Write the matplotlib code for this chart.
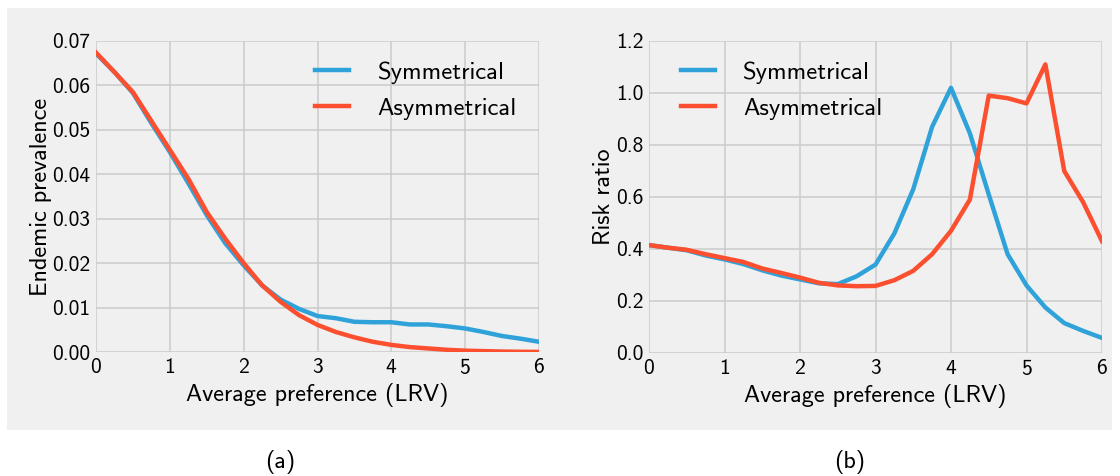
import numpy as np
import matplotlib
matplotlib.use("Agg")
import matplotlib.pyplot as plt
from matplotlib.patches import Rectangle

x = [0, 0.25, 0.5, 0.75, 1, 1.25, 1.5, 1.75, 2, 2.25, 2.5, 2.75, 3,
     3.25, 3.5, 3.75, 4, 4.25, 4.5, 4.75, 5, 5.25, 5.5, 5.75, 6]

prev_sym = [0.0672, 0.0630, 0.0583, 0.0515, 0.0450, 0.0380, 0.0308, 0.0245,
            0.0195, 0.0150, 0.0118, 0.0097, 0.0081, 0.0076, 0.0068, 0.0067,
            0.0067, 0.0062, 0.0062, 0.0058, 0.0053, 0.0045, 0.0036, 0.0030,
            0.0023]
prev_asym = [0.0674, 0.0630, 0.0585, 0.0520, 0.0455, 0.0390, 0.0315, 0.0255,
             0.0200, 0.0150, 0.0113, 0.0083, 0.0061, 0.0045, 0.0033, 0.0023,
             0.0016, 0.0011, 0.0008, 0.0005, 0.0003, 0.0002, 0.0001, 0.00005,
             0.00002]

rr_sym = [0.415, 0.405, 0.395, 0.375, 0.360, 0.342, 0.318, 0.298, 0.283,
          0.268, 0.265, 0.295, 0.340, 0.460, 0.630, 0.870, 1.020, 0.845,
          0.610, 0.380, 0.260, 0.175, 0.115, 0.085, 0.058]
rr_asym = [0.415, 0.405, 0.397, 0.380, 0.365, 0.350, 0.325, 0.308, 0.290,
           0.270, 0.260, 0.257, 0.258, 0.280, 0.316, 0.380, 0.470, 0.590,
           0.990, 0.980, 0.960, 1.110, 0.700, 0.580, 0.430]

labels = ["Symmetrical", "Asymmetrical"]
xlabel = "Average preference (LRV)"
ylabels = ["Endemic prevalence", "Risk ratio"]
captions = ["(a)", "(b)"]

plt.rcParams['font.family'] = ['cmss10', 'DejaVu Sans']
plt.rcParams['axes.formatter.use_mathtext'] = True
plt.rcParams['axes.unicode_minus'] = False

BG = "#f0f0f0"
BLUE = "#30a2da"
RED = "#fc4f30"

W, H = 1120, 476
fig = plt.figure(figsize=(W / 100, H / 100), dpi=100, facecolor="white")
fig.patches.append(Rectangle((7 / W, 1 - 430 / H), (1112 - 7) / W, (430 - 8) / H,
                             transform=fig.transFigure, facecolor=BG,
                             edgecolor="none", zorder=-10))

def ax_rect(l, r, t, b):
    return [l / W, 1 - b / H, (r - l) / W, (b - t) / H]

axa = fig.add_axes(ax_rect(96, 539, 41, 352))
axb = fig.add_axes(ax_rect(649, 1102, 41, 353))

for ax in (axa, axb):
    ax.set_zorder(1)
    ax.set_facecolor(BG)
    for s in ax.spines.values():
        s.set_visible(False)
    ax.grid(True, color="#cbcbcb", lw=1.1)
    ax.set_axisbelow(True)
    ax.tick_params(length=0, labelsize=15.5, pad=4)
    ax.set_xlim(0, 6)
    ax.set_xticks(range(0, 7))
    ax.set_xlabel(xlabel, fontsize=17.4, labelpad=4)

LFS = 17.7
axa.plot(x, prev_sym, color=BLUE, lw=3.2, label=labels[0])
axa.plot(x, prev_asym, color=RED, lw=3.2, label=labels[1])
axa.set_ylim(0, 0.07)
axa.set_yticks(np.arange(0, 0.071, 0.01))
axa.yaxis.set_major_formatter(matplotlib.ticker.FormatStrFormatter('%.2f'))
axa.set_ylabel(ylabels[0], fontsize=17.4, labelpad=0)
axa.legend(loc="upper right", frameon=False, fontsize=LFS, handlelength=1.4,
           handletextpad=1.15, labelspacing=0.55, bbox_to_anchor=(1.0, 1.005))

axb.plot(x, rr_sym, color=BLUE, lw=3.2, label=labels[0])
axb.plot(x, rr_asym, color=RED, lw=3.2, label=labels[1])
axb.set_ylim(0, 1.2)
axb.set_yticks(np.arange(0, 1.21, 0.2))
axb.yaxis.set_major_formatter(matplotlib.ticker.FormatStrFormatter('%.1f'))
axb.set_ylabel(ylabels[1], fontsize=17.4, labelpad=1)
axb.legend(loc="upper left", frameon=False, fontsize=LFS, handlelength=1.4,
           handletextpad=1.15, labelspacing=0.55, bbox_to_anchor=(0.021, 1.005))

fig.text(280 / W, 1 - 462 / H, captions[0], ha="center", va="center", fontsize=17.4)
fig.text(850 / W, 1 - 462 / H, captions[1], ha="center", va="center", fontsize=17.4)

fig.savefig("out.png", dpi=100, facecolor="white")
